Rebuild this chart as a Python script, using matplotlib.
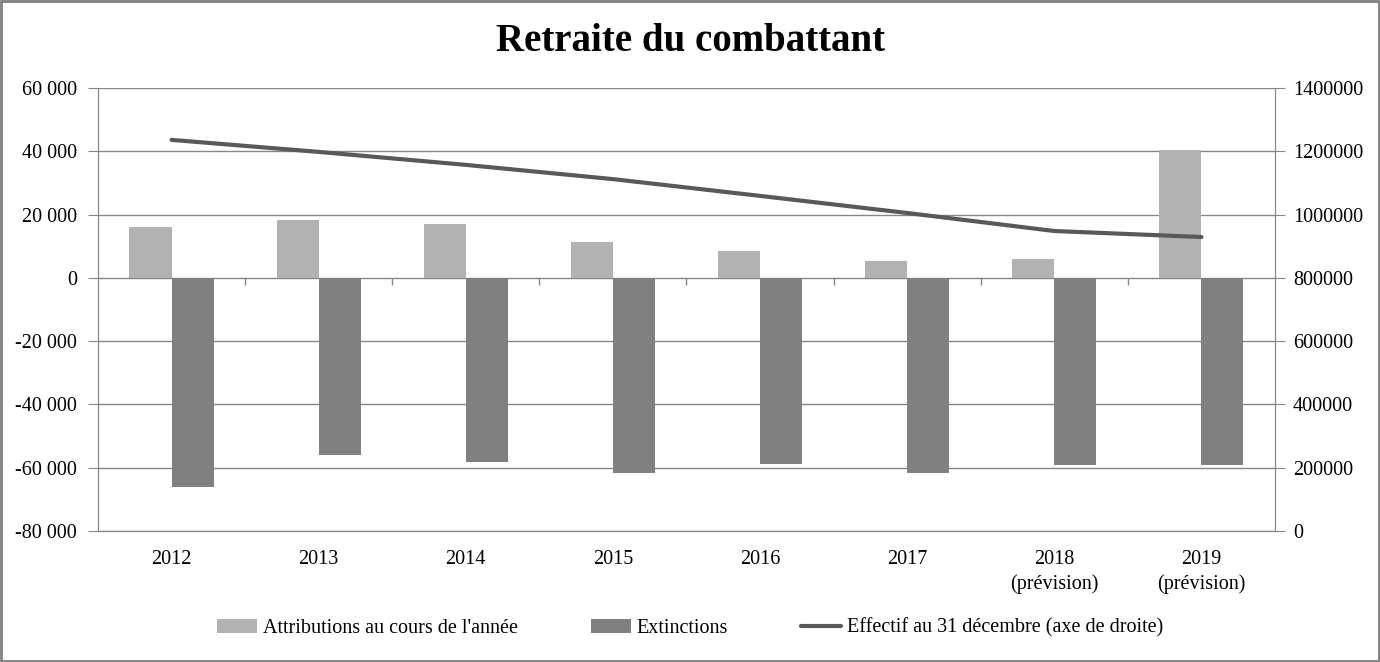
import numpy as np
import matplotlib
matplotlib.use('Agg')
import matplotlib.pyplot as plt
from matplotlib.patches import Rectangle
from matplotlib.ticker import FuncFormatter, MultipleLocator

# data
years = ['2012', '2013', '2014', '2015', '2016', '2017', '2018\n(prévision)', '2019\n(prévision)']
attributions = [16100, 18300, 17000, 11400, 8500, 5400, 6000, 40500]
extinctions = [-66000, -55900, -58200, -61600, -58800, -61600, -59100, -59100]
effectif = [1236000, 1198000, 1157000, 1112000, 1059000, 1005000, 948000, 929000]

plt.rcParams['font.family'] = ['Liberation Serif', 'DejaVu Serif']

fig = plt.figure(figsize=(13.8, 6.62), dpi=100)
ax = fig.add_axes([0.0710, 0.1979, 0.8529, 0.6692])
ax2 = ax.twinx()

x = np.arange(len(years))
w = 0.286
grid_c = '#868686'
fs = 14.5

ax.bar(x - w/2, attributions, w, color='#b2b2b2', label="Attributions au cours de l'année", zorder=3)
ax.bar(x + w/2, extinctions, w, color='#808080', label='Extinctions', zorder=3)
ax2.plot(x, effectif, color='#595959', lw=3, solid_capstyle='round', label='Effectif au 31 décembre (axe de droite)')

ax.set_xlim(-0.5, len(years) - 0.5)
ax.set_ylim(-80000, 60000)
ax.yaxis.set_major_locator(MultipleLocator(20000))
ax.yaxis.set_major_formatter(FuncFormatter(lambda v, p: '{:,}'.format(int(v)).replace(',', ' ')))
ax2.set_ylim(0, 1400000)
ax2.yaxis.set_major_locator(MultipleLocator(200000))
ax2.yaxis.set_major_formatter(FuncFormatter(lambda v, p: '%d' % v))

ax.grid(axis='y', color=grid_c, lw=1, zorder=0)
ax.set_axisbelow(True)
# category separator ticks on the zero line
ax.vlines(np.arange(0.5, len(years) - 0.5), -2200, 0, color=grid_c, lw=1, zorder=2)

ax.set_xticks(x)
ax.set_xticklabels(years, fontsize=fs, linespacing=1.35)
ax.tick_params(axis='x', length=0, pad=14)
ax.tick_params(axis='y', labelsize=fs, length=7, color=grid_c, pad=8)
ax2.tick_params(axis='y', labelsize=fs, length=7, color=grid_c, pad=6)

for a in (ax, ax2):
    a.spines['top'].set_visible(False)
    for s in ('left', 'right', 'bottom'):
        a.spines[s].set_color(grid_c)

fig.suptitle('Retraite du combattant', fontsize=28, fontweight='bold', y=0.965)

h1, l1 = ax.get_legend_handles_labels()
h2, l2 = ax2.get_legend_handles_labels()
fig.legend(h1 + h2, l1 + l2, loc='center', bbox_to_anchor=(0.5, 0.051), ncol=3,
           frameon=False, fontsize=fs, handlelength=2.0, handleheight=0.65,
           handletextpad=0.3, columnspacing=3.6)

fig.patches.append(Rectangle((0.001, 0.002), 0.998, 0.996, transform=fig.transFigure,
                             fill=False, edgecolor='#808080', lw=2))

fig.savefig('out.png', dpi=100)
